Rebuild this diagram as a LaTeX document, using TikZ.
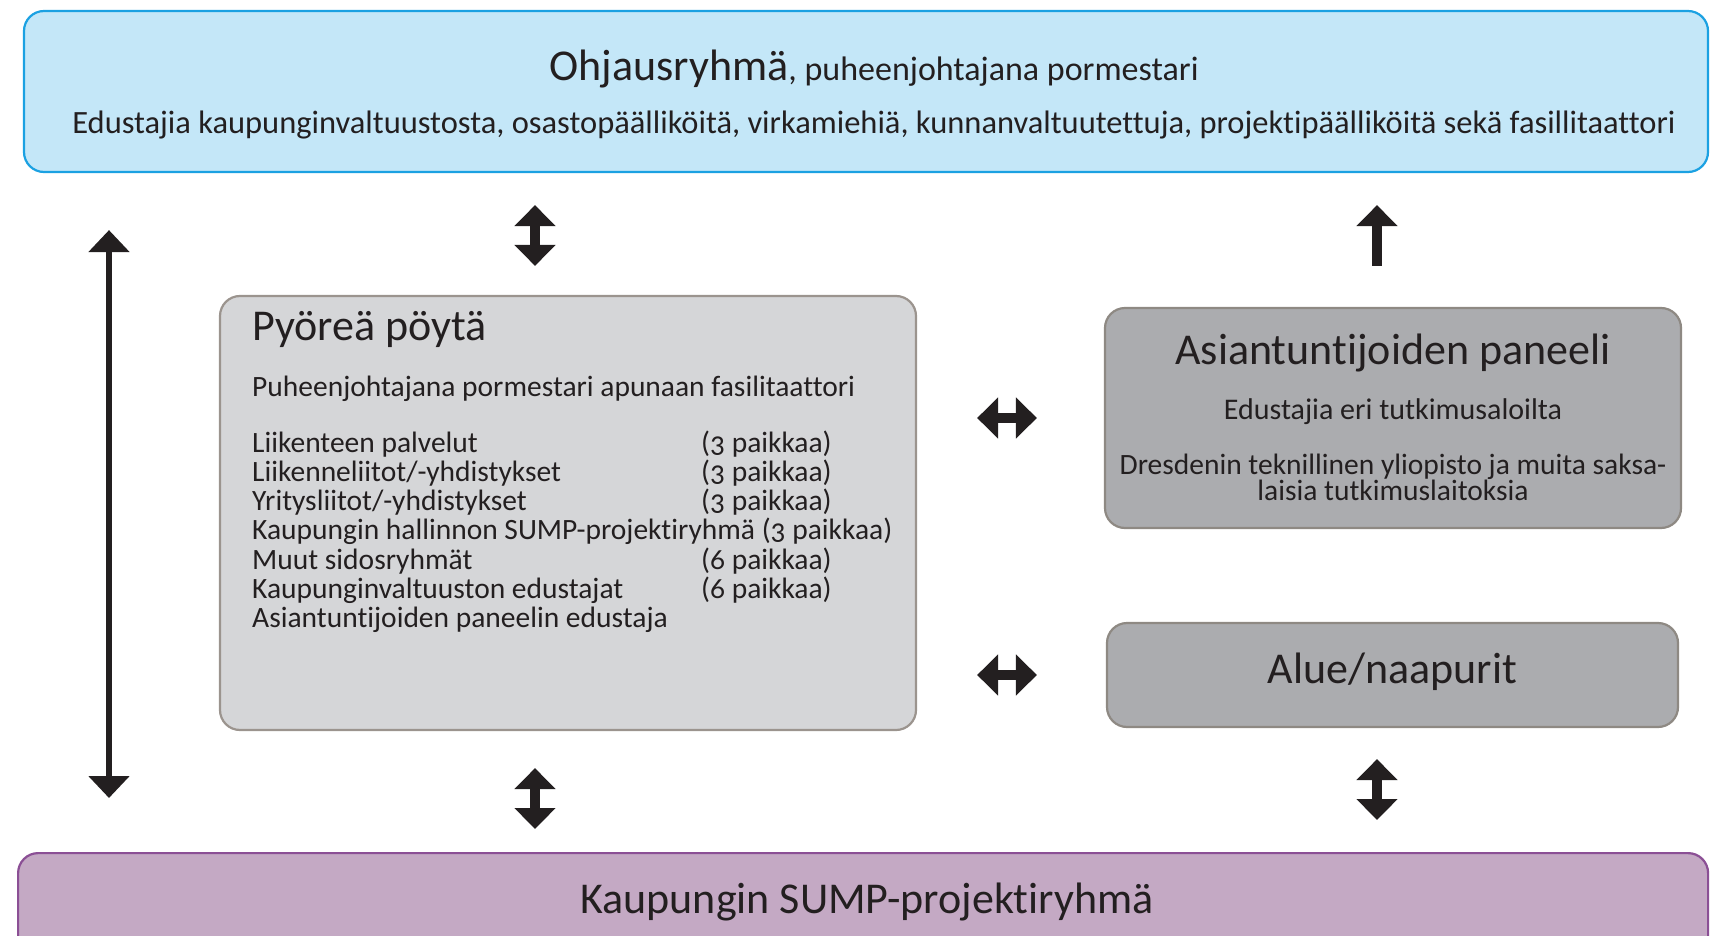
\documentclass[tikz,border=0pt]{standalone}
\usepackage{fontspec}
\setmainfont{Carlito}[Numbers=OldStyle, Ligatures=NoCommon]
\usepackage{tikz}
\usetikzlibrary{positioning, calc, arrows.meta}

\begin{document}
\begin{tikzpicture}[x=1pt, y=1pt,
        box/.style={rounded corners=20pt, line width=2.2pt, inner sep=0pt},
        titletxt/.style={font=\fontsize{44}{50}\selectfont, text=txtcol, inner sep=0pt},
        bodytxt/.style={font=\fontsize{29.5}{26}\selectfont, text=txtcol, inner sep=0pt},
        dbl/.style={{Triangle[width=40pt,length=21pt]}-{Triangle[width=40pt,length=21pt]}, line width=10pt, draw=arrowcol},
        single/.style={-{Triangle[width=40pt,length=21pt]}, line width=10pt, draw=arrowcol},
        longarrow/.style={{Triangle[width=40pt,length=22pt]}-{Triangle[width=40pt,length=22pt]}, line width=6.5pt, draw=arrowcol}]
        % Colours
        \definecolor{txtcol}{RGB}{35,31,32}
        \definecolor{arrowcol}{RGB}{35,31,32}
        \definecolor{topfill}{RGB}{196,231,248}
        \definecolor{topline}{RGB}{27,161,226}
        \definecolor{pyfill}{RGB}{213,214,216}
        \definecolor{pyline}{RGB}{155,148,142}
        \definecolor{panfill}{RGB}{171,172,175}
        \definecolor{panline}{RGB}{142,137,131}
        \definecolor{botfill}{RGB}{196,169,196}
        \definecolor{botline}{RGB}{139,79,149}

        \useasboundingbox (0,0) rectangle (1710,-936);
        \clip (0,0) rectangle (1710,-936);

        % 1. Boxes
        \node[box, draw=topline, fill=topfill, minimum width=1684pt, minimum height=161pt] (ohjaus) at (866,-91.5) {};
        \node[box, draw=pyline, fill=pyfill, minimum width=696pt, minimum height=434pt] (pyorea) at (568,-513) {};
        \node[box, draw=panline, fill=panfill, minimum width=576pt, minimum height=220pt] (paneeli) at (1393,-418) {};
        \node[box, draw=panline, fill=panfill, minimum width=571pt, minimum height=104pt] (alue) at (1392.5,-675) {};
        \node[box, draw=botline, fill=botfill, minimum width=1690pt, minimum height=140pt, anchor=north west] (sump) at (17,-852) {};

        % 2. Texts
        \node[titletxt, anchor=base] (ohjaus_t) at (874,-81)
            {Ohjausryhmä{\fontsize{34}{38}\selectfont, puheenjohtajana pormestari}};
        \node[bodytxt, anchor=base, font=\fontsize{32.5}{34}\selectfont] (ohjaus_s) at (874,-134)
            {Edustajia kaupunginvaltuustosta, osastopäälliköitä, virkamiehiä, kunnanvaltuutettuja, projektipäälliköitä sekä fasillitaattori};

        \node[titletxt, anchor=base west] (pyorea_t) at (252,-340) {Pyöreä pöytä};
        \node[bodytxt, anchor=base west] (pyorea_s) at (252,-396) {Puheenjohtajana pormestari apunaan fasilitaattori};
        \foreach \row/\seats [count=\i from 0] in {Liikenteen palvelut/(3 paikkaa),
                {Liikenneliitot/-yhdistykset}/(3 paikkaa),
                {Yritysliitot/-yhdistykset}/(3 paikkaa),
                Kaupungin hallinnon SUMP-projektiryhmä (3 paikkaa)/{},
                Muut sidosryhmät/(6 paikkaa),
                Kaupunginvaltuuston edustajat/(6 paikkaa),
                Asiantuntijoiden paneelin edustaja/{}} {
            \node[bodytxt, anchor=base west] (row\i) at (252,-452-29.3*\i) {\row};
            \node[bodytxt, anchor=base west] (seats\i) at (701,-452-29.3*\i) {\seats};
        }

        \node[titletxt, anchor=base] (paneeli_t) at (1393,-364) {Asiantuntijoiden paneeli};
        \node[bodytxt, anchor=base, font=\fontsize{30}{26}\selectfont] (paneeli_s) at (1393,-419) {Edustajia eri tutkimusaloilta};
        \node[bodytxt, anchor=base, align=center] (paneeli_d) at (1393,-500)
            {Dresdenin teknillinen yliopisto ja muita saksa-\\laisia tutkimuslaitoksia};

        \node[titletxt, anchor=base] (alue_t) at (1392.5,-683) {Alue/naapurit};
        \node[titletxt, anchor=base] (sump_t) at (867,-913) {Kaupungin SUMP-projektiryhmä};

        % 3. Arrows
        \coordinate (colL) at (535,0);
        \coordinate (colR) at (1377,0);
        \coordinate (colE) at (109,0);
        \draw[dbl, shorten <=32pt, shorten >=29pt] (colL |- ohjaus.south) -- (colL |- pyorea.north);
        \draw[single, shorten <=41pt, shorten >=32pt] (colR |- paneeli.north) -- (colR |- ohjaus.south);
        \draw[dbl, shorten <=60pt, shorten >=67pt] (pyorea.east |- paneeli.west) -- (paneeli.west);
        \draw[dbl, shorten <=60pt, shorten >=69pt] (pyorea.east |- alue.west) -- (alue.west);
        \draw[dbl, shorten <=37pt, shorten >=23pt] (colL |- pyorea.south) -- (colL |- sump.north);
        \draw[dbl, shorten <=31pt, shorten >=32pt] (colR |- alue.south) -- (colR |- sump.north);
        \draw[longarrow, shorten <=57pt, shorten >=54pt] (colE |- ohjaus.south) -- (colE |- sump.north);

\end{tikzpicture}
\end{document}
